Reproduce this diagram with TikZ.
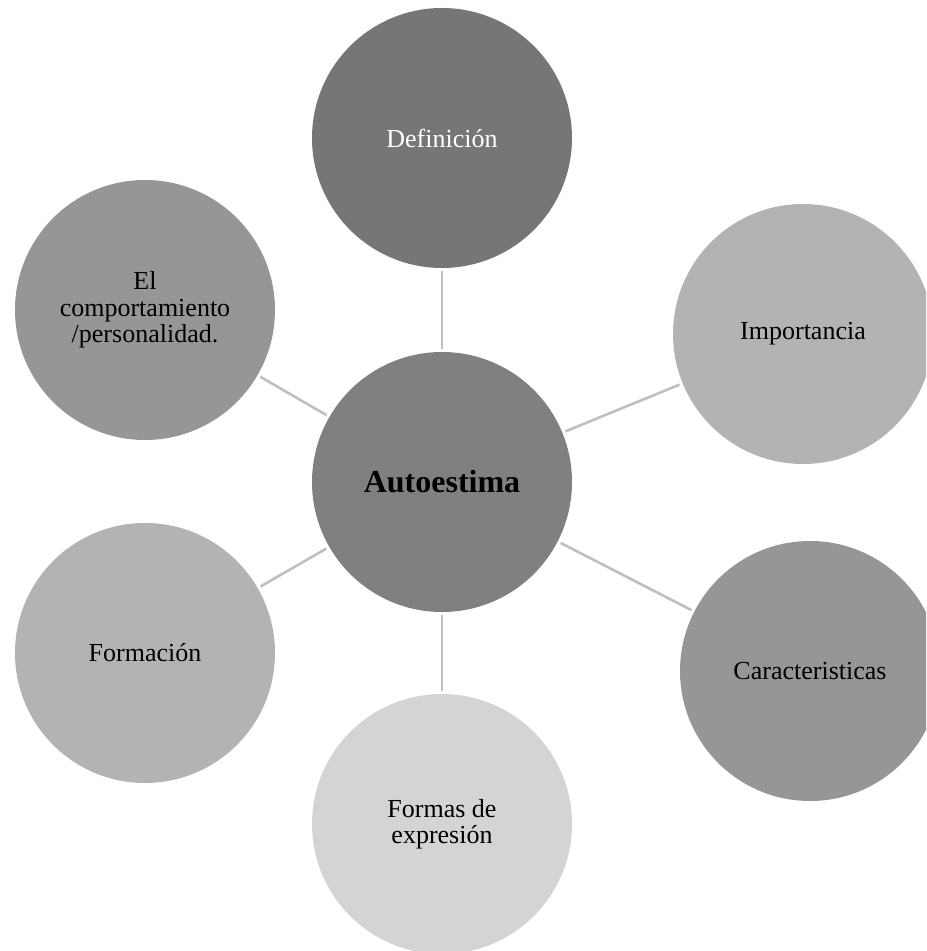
\documentclass[tikz,border=0pt]{standalone}
\usepackage{fontspec}
\setmainfont{Liberation Serif}
\usepackage{tikz}

\definecolor{gris1}{HTML}{767676}
\definecolor{gris2}{HTML}{808080}
\definecolor{gris3}{HTML}{969696}
\definecolor{gris4}{HTML}{B3B3B3}
\definecolor{gris5}{HTML}{D4D4D4}
\definecolor{linea}{HTML}{BFBFBF}

\begin{document}
\begin{tikzpicture}[x=0.5pt, y=-0.5pt,
	bola/.style = {circle, minimum size=130pt, inner sep=0pt, align=center,
		font=\fontsize{13}{13.2}\selectfont},
	conn/.style = {draw=linea, line width=1.3pt, shorten <=1.5pt, shorten >=1.5pt}]
	\useasboundingbox (0,0) rectangle (926,951);
	\clip (0,0) rectangle (926,951);
	\node [bola, fill=gris2, font=\fontsize{16}{18}\selectfont\bfseries] (auto) at (442, 482) {Autoestima};
	\node [bola, fill=gris1, text=white] (defin) at (442, 138) {Definición};
	\node [bola, fill=gris4] (import) at (803, 334) {Importancia};
	\node [bola, fill=gris3] (caract) at (810, 671) {Caracteristicas};
	\node [bola, fill=gris5] (formas) at (442, 824) {Formas de\\expresión};
	\node [bola, fill=gris4] (formac) at (145, 653) {Formación};
	\node [bola, fill=gris3] (comport) at (145, 310) {El\\comportamiento\\/personalidad.};
	\draw [conn] (auto) -- (defin);
	\draw [conn] (auto) -- (import);
	\draw [conn] (auto) -- (caract);
	\draw [conn] (auto) -- (formas);
	\draw [conn] (auto) -- (formac);
	\draw [conn] (auto) -- (comport);
\end{tikzpicture}
\end{document}
